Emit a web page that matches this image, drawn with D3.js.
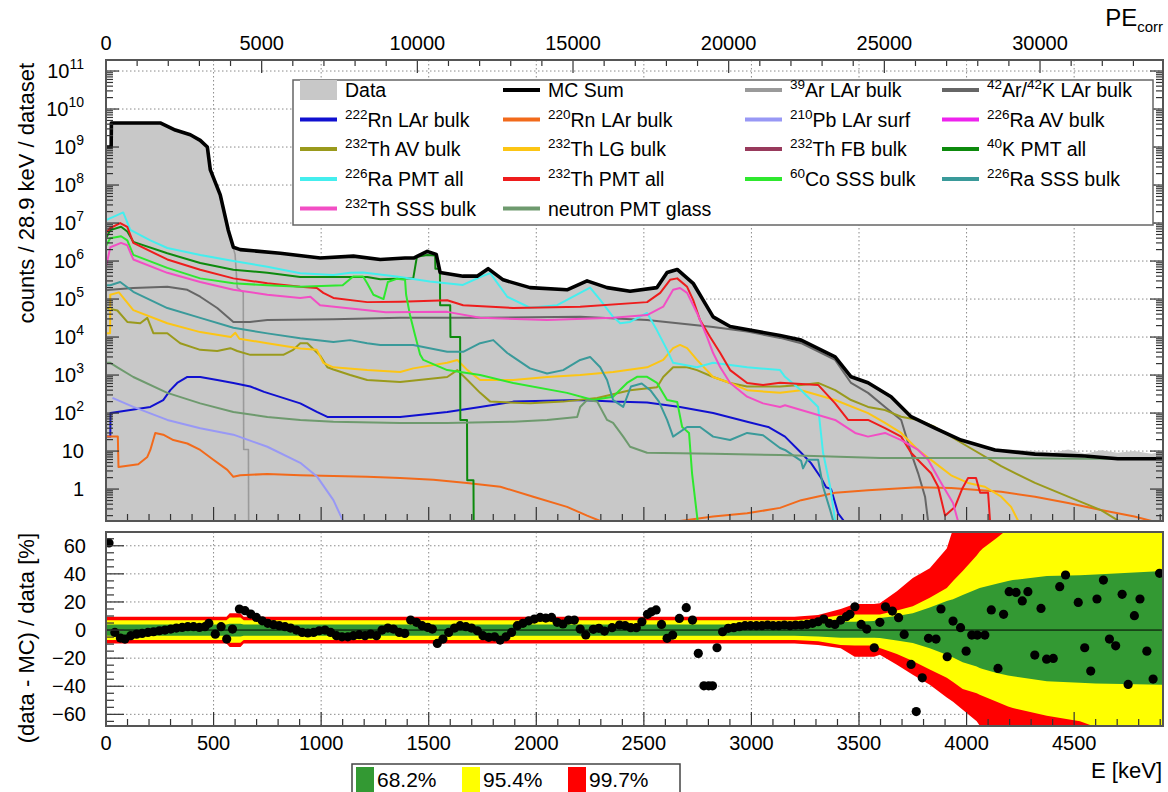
<!DOCTYPE html>
<html>
<head>
<meta charset="utf-8">
<script src="https://cdn.jsdelivr.net/npm/d3@7"></script>
<style>
  body { margin: 0; background: #fff; }
  svg text { font-family: "Liberation Sans", Arial, Helvetica, sans-serif; fill: #000; }
</style>
</head>
<body>
<svg id="chart" width="1168" height="792"></svg>
<script>
// ---- spectra: [E keV, counts / 28.9 keV / dataset] ----
const mcSum = [[0,1.0e9],[24,1.0e9],[25,4.3e9],[252,4.3e9],[322,2.8e9],[392,2.1e9],[438,1.5e9],[471,1.0e9],[485,2.5e8],[531,5.5e7],[568,6.6e6],[592,2.3e6],[624,2.0e6],[810,1.6e6],[996,1.2e6],[1150,1.35e6],[1275,1.1e6],[1390,1.2e6],[1430,1.2e6],[1493,1.8e6],[1535,1.5e6],[1553,5.0e5],[1660,4.0e5],[1725,4.0e5],[1776,6.3e5],[1846,3.2e5],[1971,2.0e5],[2143,1.75e5],[2236,3.0e5],[2329,2.0e5],[2436,1.6e5],[2561,2.0e5],[2608,5.0e5],[2655,6.0e5],[2729,2.6e5],[2775,9.5e4],[2822,3.4e4],[2901,1.9e4],[3133,1.1e4],[3231,8.3e3],[3389,3.0e3],[3463,9.0e2],[3542,6.3e2],[3649,2.7e2],[3742,80],[3853,40],[3974,19.5],[4132,10.7],[4318,8.3],[4550,7.4],[4703,6.3],[4913,6.3]];
const dataHist = [[0,1.0e9],[24,1.0e9],[25,4.3e9],[252,4.3e9],[322,2.8e9],[392,2.1e9],[438,1.5e9],[471,1.0e9],[485,2.5e8],[531,5.5e7],[568,6.6e6],[592,2.3e6],[624,2.2e6],[810,1.65e6],[996,1.2e6],[1150,1.35e6],[1275,1.1e6],[1390,1.25e6],[1430,1.2e6],[1493,1.8e6],[1535,1.5e6],[1553,5.0e5],[1660,4.0e5],[1725,4.0e5],[1776,6.3e5],[1846,3.2e5],[1971,2.1e5],[2143,1.8e5],[2236,3.0e5],[2329,2.0e5],[2436,1.6e5],[2561,2.2e5],[2608,5.0e5],[2655,6.0e5],[2729,2.7e5],[2775,9.0e4],[2822,3.2e4],[2901,1.9e4],[3133,1.15e4],[3231,8.6e3],[3389,3.1e3],[3463,1.0e3],[3542,6.3e2],[3649,3.0e2],[3742,70],[3853,40],[3974,20],[4132,11.5],[4318,10],[4400,9],[4472,11],[4550,8.5],[4625,10.5],[4703,9],[4780,10],[4860,8.5],[4913,10]];
const ar39 = [[0,1.0e9],[24,1.0e9],[25,4.2e9],[252,4.2e9],[322,2.8e9],[392,2.1e9],[438,1.5e9],[471,1.0e9],[485,2.5e8],[531,5.5e7],[568,6.5e6],[600,1.5e6],[610,2.0e5],[638,1.5e5],[640,11],[662,11],[663,0],[4913,0]];
const ar42 = [[0,1.7e5],[20,1.75e5],[127,1.95e5],[285,2.1e5],[378,1.75e5],[438,1.15e5],[517,5.8e4],[564,3.4e4],[592,2.5e4],[669,2.5e4],[750,2.8e4],[1057,2.95e4],[1367,3.2e4],[1739,3.2e4],[2204,3.4e4],[2515,2.8e4],[2822,1.85e4],[2980,1.4e4],[3133,9.5e3],[3231,6.9e3],[3389,2.5e3],[3463,6.2e2],[3542,3.4e2],[3621,1.45e2],[3696,66],[3742,9],[3775,2.6],[3807,0.63],[3821,0],[4913,0]];
const rn222 = [[0,24],[20,24],[21,100],[206,145],[266,220],[299,400],[331,620],[378,890],[438,890],[517,740],[592,620],[671,500],[735,360],[903,180],[980,107],[1029,79],[1135,79],[1367,79],[1586,107],[1739,145],[1893,200],[2204,220],[2357,200],[2515,190],[2668,145],[2822,100],[2980,59],[3078,43],[3156,24],[3231,9],[3277,4.8],[3324,1.95],[3347,1.12],[3370,1.0],[3389,0.43],[3403,0.23],[3430,0],[4913,0]];
const rn220 = [[0,24],[55,24],[58,3.8],[150,4.5],[192,7],[206,10.7],[229,30],[266,27],[313,19.5],[378,15.8],[438,10.7],[499,5.9],[564,3.2],[592,2.1],[624,2.3],[750,2.5],[903,2.3],[1057,2.2],[1214,2.1],[1367,1.95],[1522,1.75],[1678,1.45],[1833,1.15],[1986,0.63],[2143,0.34],[2236,0.2],[2297,0],[2668,0],[2822,0.19],[2980,0.23],[3133,0.32],[3231,0.51],[3389,0.8],[3542,0.93],[3775,1.12],[3928,1.07],[4161,0.85],[4318,0.63],[4472,0.43],[4625,0.28],[4780,0.19],[4860,0],[4913,0]];
const pb210 = [[30,250],[127,145],[285,66],[438,40],[592,27],[750,13],[903,4.9],[982,2.1],[1057,0.51],[1102,0.1],[1110,0],[4913,0]];
const ra226AV = [[0,0],[4913,0]];
const th232AV = [[0,5.8e4],[53,5.0e4],[99,2.5e4],[159,2.3e4],[192,3.2e4],[220,1.26e4],[285,1.26e4],[345,6.9e3],[438,4.6e3],[517,4.3e3],[578,5.1e3],[610,4.3e3],[671,3.4e3],[824,3.4e3],[870,4.6e3],[903,6.9e3],[936,6.9e3],[996,3.2e3],[1029,1.6e3],[1057,1.4e3],[1135,1.0e3],[1214,740],[1367,660],[1586,890],[1633,1.35e3],[1680,740],[1739,340],[1786,200],[1971,180],[2125,200],[2283,250],[2436,400],[2561,480],[2590,890],[2636,1.6e3],[2701,1.6e3],[2747,1.35e3],[2822,890],[2901,620],[2980,500],[3133,500],[3231,550],[3310,620],[3389,400],[3463,220],[3542,145],[3621,120],[3696,80],[3775,66],[3853,43],[3928,24],[4007,13],[4161,4.0],[4318,1.45],[4472,0.63],[4625,0.28],[4703,0.15],[4720,0],[4913,0]];
const th232LG = [[0,1.26e4],[19,1.26e4],[20,1.3e5],[60,1.5e5],[127,5.1e4],[285,2.3e4],[438,1.35e4],[580,1.0e4],[601,1.3e4],[620,9.0e3],[750,6.9e3],[903,5.0e3],[980,4.6e3],[1010,2.1e3],[1057,1.6e3],[1214,1.35e3],[1367,1.2e3],[1428,1.5e3],[1586,2.1e3],[1633,2.5e3],[1680,1.35e3],[1739,740],[1893,740],[2050,890],[2204,1.0e3],[2357,1.2e3],[2515,1.6e3],[2590,2.5e3],[2636,5.1e3],[2668,6.2e3],[2701,5.1e3],[2747,2.5e3],[2822,890],[2901,620],[2980,400],[3133,340],[3231,400],[3389,220],[3542,100],[3621,55],[3696,30],[3775,10.7],[3853,4.9],[3928,2.3],[4007,1.45],[4085,1.15],[4161,0.63],[4207,0.34],[4240,0],[4913,0]];
const th232FB = [[0,0],[4913,0]];
const k40PMT = [[0,4.0e6],[20,6.5e6],[70,8.0e6],[99,6.0e6],[127,3.2e6],[285,1.6e6],[438,8.9e5],[592,5.9e5],[750,4.9e5],[903,3.8e5],[1057,3.8e5],[1214,3.8e5],[1275,3.3e5],[1428,3.5e5],[1445,1.3e6],[1493,1.45e6],[1530,1.4e6],[1531,6.3e5],[1552,6.3e5],[1553,6.9e4],[1600,6.9e4],[1601,1.0e4],[1646,1.0e4],[1647,66],[1678,66],[1679,1.7],[1708,1.7],[1709,0],[4913,0]];
const ra226PMT = [[0,1.2e7],[34,1.45e7],[80,1.9e7],[113,6.6e6],[206,3.5e6],[285,2.2e6],[438,1.45e6],[592,1.0e6],[750,7.1e5],[903,4.8e5],[1057,4.3e5],[1135,4.9e5],[1195,5.0e5],[1351,3.9e5],[1505,2.9e5],[1659,2.35e5],[1739,3.8e5],[1786,4.8e5],[1865,1.15e5],[1971,5.9e4],[2097,6.9e4],[2204,1.45e5],[2250,2.0e5],[2297,9.5e4],[2357,3.4e4],[2390,2.3e4],[2436,2.5e4],[2515,4.3e4],[2561,1.5e4],[2608,4.6e3],[2636,2.1e3],[2747,1.6e3],[2822,2.1e3],[2980,1.6e3],[3133,1.35e3],[3156,900],[3231,400],[3310,145],[3333,9],[3366,1.15],[3389,0],[4913,0]];
const th232PMT = [[0,5.5e6],[20,7.4e6],[66,1.0e7],[99,7.9e6],[127,3.0e6],[285,1.1e6],[438,5.9e5],[592,3.5e5],[750,2.6e5],[903,2.1e5],[980,1.95e5],[1010,1.45e5],[1057,1.07e5],[1214,8.3e4],[1367,8.5e4],[1586,9.3e4],[1660,6.9e4],[1893,5.8e4],[2204,6.3e4],[2515,8.3e4],[2576,1.45e5],[2622,3.2e5],[2655,3.5e5],[2701,2.1e5],[2729,9.5e4],[2761,2.8e4],[2808,1.0e4],[2855,3.8e3],[2901,1.35e3],[2980,620],[3054,550],[3133,630],[3310,550],[3389,180],[3449,66],[3542,66],[3621,40],[3696,24],[3742,9],[3789,4.8],[3835,2.6],[3868,1.15],[3900,0.2],[3946,0.34],[3979,1.0],[4007,1.95],[4044,1.95],[4063,0.8],[4100,0.8],[4109,0],[4913,0]];
const co60SSS = [[0,2.5e6],[20,4.0e6],[70,4.5e6],[99,3.5e6],[127,1.45e6],[285,6.6e5],[438,3.5e5],[592,2.6e5],[750,2.3e5],[903,2.1e5],[1100,2.3e5],[1149,3.9e5],[1195,3.9e5],[1214,2.6e5],[1243,1.3e5],[1290,1.0e5],[1310,2.8e5],[1351,3.4e5],[1390,3.2e5],[1395,1.3e5],[1413,3.8e4],[1436,1.15e4],[1460,3.5e3],[1475,2.5e3],[1586,1.35e3],[1739,1.0e3],[1893,620],[2143,340],[2264,220],[2357,270],[2422,620],[2468,900],[2515,900],[2561,620],[2608,220],[2655,195],[2678,43],[2710,30],[2724,2.6],[2750,0],[4913,0]];
const ra226SSS = [[0,2.3e5],[20,2.3e5],[66,2.8e5],[127,1.55e5],[285,5.8e4],[438,3.2e4],[592,1.75e4],[750,1.25e4],[903,9.3e3],[1057,7.4e3],[1135,8.3e3],[1214,6.9e3],[1275,6.2e3],[1428,6.2e3],[1586,4.1e3],[1660,4.1e3],[1739,6.9e3],[1800,8.3e3],[1865,3.8e3],[1971,1.5e3],[2050,1.1e3],[2125,1.35e3],[2204,2.5e3],[2250,3.0e3],[2297,1.6e3],[2329,740],[2357,220],[2404,145],[2440,500],[2490,600],[2530,400],[2570,200],[2608,66],[2636,24],[2701,43],[2761,43],[2822,24],[2901,19.5],[2980,30],[3054,26],[3133,12],[3156,10.7],[3231,5.5],[3240,3.5],[3260,5.9],[3310,5.9],[3333,1.15],[3366,0.28],[3380,0],[4913,0]];
const th232SSS = [[0,7.0e5],[20,2.3e6],[70,3.0e6],[99,2.6e6],[127,1.1e6],[285,4.9e5],[438,2.8e5],[592,1.75e5],[750,1.3e5],[903,1.07e5],[950,1.15e5],[995,6.9e4],[1214,5.1e4],[1300,4.5e4],[1586,4.6e4],[1739,3.2e4],[2050,2.8e4],[2357,3.2e4],[2515,3.8e4],[2590,6.3e4],[2636,1.75e5],[2668,1.95e5],[2701,1.45e5],[2747,4.3e4],[2794,1.0e4],[2822,3.8e3],[2855,1.6e3],[2901,620],[2980,270],[3054,180],[3133,145],[3156,160],[3231,120],[3389,66],[3482,30],[3542,24],[3621,30],[3696,19.5],[3775,10.7],[3821,5.9],[3882,1.45],[3937,0.43],[3960,0],[4913,0]];
const neutronPMT = [[0,2.1e3],[20,2.1e3],[53,1.6e3],[127,890],[285,340],[438,180],[592,107],[750,79],[903,66],[1057,59],[1367,55],[1586,55],[1893,59],[2050,66],[2190,79],[2204,145],[2236,220],[2283,200],[2329,66],[2357,55],[2404,24],[2436,13],[2515,9],[2822,8.5],[3133,7.9],[3600,6.6],[4100,6.6],[4550,6.3],[4913,6.3]];

// ---- residual panel: (data - MC)/data [%] ----
const resE = [14,41,67,88,115,142,168,195,221,248,274,301,327,354,380,407,434,460,478,508,535,561,588,620,646,673,699,726,752,779,805,832,858,885,912,938,965,991,1018,1044,1071,1097,1124,1150,1177,1204,1230,1257,1283,1310,1336,1363,1389,1416,1443,1469,1496,1517,1540,1566,1593,1620,1646,1673,1699,1726,1752,1779,1806,1832,1859,1885,1912,1938,1965,1991,2018,2044,2071,2097,2124,2150,2177,2204,2230,2265,2291,2317,2352,2387,2413,2439,2465,2491,2517,2535,2557,2582,2608,2634,2665,2697,2726,2753,2779,2801,2819,2840,2866,2892,2918,2944,2970,2996,3023,3049,3075,3101,3127,3153,3179,3205,3232,3258,3284,3310,3336,3362,3388,3415,3441,3458,3481,3510,3536,3571,3597,3623,3655,3684,3710,3742,3766,3794,3823,3858,3881,3910,3937,3972,3998,4024,4050,4085,4115,4146,4172,4198,4230,4259,4285,4317,4346,4372,4403,4433,4460,4519,4549,4577,4606,4636,4664,4693,4723,4751,4780,4806,4838,4867,4897];
const resV = [62,-1.7,-5.7,-6.4,-4,-2.9,-2.4,-1.7,-1.2,-0.5,0,0.7,1.4,1.9,2.4,2.4,1.9,2.4,4.8,-2.9,2.4,-6.4,0.7,15,13.8,11.4,9,6.6,4.8,3.8,3.1,2.4,1.4,0,-1.7,-2.1,-1.7,-0.5,0,-1.7,-4,-4.8,-4.8,-4,-3.3,-4,-2.9,-4,0,1.4,0.7,-1.7,-2.4,7.1,5.5,3.1,1.9,0.7,-9.5,-6.4,-1.7,1.4,3.1,2.4,1.4,-0.5,-4,-5.2,-4.8,-7.1,-4.8,-1.7,3.1,4.8,6.6,7.8,9,8.5,9,5.5,4.3,7.1,7.1,0.7,-3.5,0.5,1.2,-0.7,1.7,3.6,3.1,1.7,1.7,5.9,11.2,13,14.3,4,-5.9,-3.6,8.3,15.9,7.1,-16.6,-39.7,-39.7,-39.7,-12.6,-1.2,1.2,1.7,2.4,3.1,3.1,3.1,3.1,3.6,3.1,3.1,3.6,3.1,3.6,3.6,4,4.8,5.9,7.8,4.8,4,7.1,9.5,11.2,16.6,4,0.7,-12.6,5.5,16.6,13.5,8.8,-3.1,-24.5,-58,-34,-5.9,-6.4,15,-19,6.4,1.7,-15,-3.6,-3.6,-3.6,14.3,-27.3,11.2,27.3,26.8,20.7,27.3,-17.8,15.4,-20.7,-20.2,30.9,39.2,19.7,-12.6,-29.2,22.1,35.6,-6.4,-11.2,25.4,-38.7,10.2,22.1,-15,-34.9,40.4];

// uncertainty bands (upper / lower edge, %)
const bandE    = [0, 560, 575, 625, 640, 3200, 3310, 3415, 3480, 3570, 3597, 3676, 3750, 3829, 3908, 3937, 3982, 4047, 4061, 4075, 4140, 4193, 4215, 4373, 4527, 4600, 4913];
const greenHi  = [4, 4, 4.5, 4.5, 4, 4, 4.5, 6, 6, 6.5, 8.5, 10, 12, 16, 20.6, 22, 25, 29, 30, 30.5, 33, 35, 35.6, 38.4, 39, 39.5, 42];
const greenLo  = [-4, -4, -4.5, -4.5, -4, -4, -4.5, -5.5, -5.5, -5.5, -5.7, -7.5, -9.3, -13, -17.6, -19.5, -23, -26, -27, -27.8, -30.5, -32.3, -32.9, -36.4, -37.6, -38, -39];
const yellowHi = [7, 7, 9, 9, 7, 7, 8, 10.7, 11, 11, 11, 14, 17, 23, 30, 35, 42, 53, 56, 58, 65.5, 72, 80, 80, 80, 80, 80];
const yellowLo = [-7, -7, -9, -9, -7, -7, -8, -10.7, -11, -11, -12.8, -17, -22, -28, -34, -37, -42, -45, -46, -47, -51, -54.5, -55.5, -61, -65, -69, -80];
const redHi    = [9.5, 9.5, 12, 12, 9.5, 9.5, 10.7, 15, 18.5, 18.5, 19, 27.7, 37, 44, 58, 72, 80, 80, 80, 80, 80, 80, 80, 80, 80, 80, 80];
const redLo    = [-9.5, -9.5, -12, -12, -9.5, -9.5, -10.7, -13, -19, -19, -17.6, -24.7, -31.8, -39, -48, -51, -56.7, -65, -68, -72, -80, -80, -80, -80, -80, -80, -80];

// tick labels
const peTicks = [0, 5000, 10000, 15000, 20000, 25000, 30000];
const eTicks = [0, 500, 1000, 1500, 2000, 2500, 3000, 3500, 4000, 4500];
const decades = [0, 1, 2, 3, 4, 5, 6, 7, 8, 9, 10, 11];
const resTicks = [-60, -40, -20, 0, 20, 40, 60];
const bandNames = ["68.2%", "95.4%", "99.7%"];

// legend grid, row by row
const legendItems = [
  { label: "Data", color: "#c8c8c8", values: dataHist, kind: "fill" },
  { label: "MC Sum", color: "#000000", values: mcSum, kind: "sum" },
  { label: "^{39}Ar LAr bulk", color: "#9a9a9a", values: ar39, w: 1.6 },
  { label: "^{42}Ar/^{42}K LAr bulk", color: "#666666", values: ar42 },
  { label: "^{222}Rn LAr bulk", color: "#1010d0", values: rn222 },
  { label: "^{220}Rn LAr bulk", color: "#f26a1b", values: rn220 },
  { label: "^{210}Pb LAr surf", color: "#9898f5", values: pb210 },
  { label: "^{226}Ra AV bulk", color: "#ee22ee", values: ra226AV },
  { label: "^{232}Th AV bulk", color: "#9a9a1c", values: th232AV },
  { label: "^{232}Th LG bulk", color: "#fcc514", values: th232LG },
  { label: "^{232}Th FB bulk", color: "#983a5c", values: th232FB },
  { label: "^{40}K PMT all", color: "#0d8a0d", values: k40PMT },
  { label: "^{226}Ra PMT all", color: "#44eeee", values: ra226PMT },
  { label: "^{232}Th PMT all", color: "#ee1c1c", values: th232PMT },
  { label: "^{60}Co SSS bulk", color: "#2ee82e", values: co60SSS },
  { label: "^{226}Ra SSS bulk", color: "#3a9a9a", values: ra226SSS },
  { label: "^{232}Th SSS bulk", color: "#f24ec4", values: th232SSS },
  { label: "neutron PMT glass", color: "#6e9a6e", values: neutronPMT }
];

// ---- layout ----
const L = 106, R = 1163;
const topY0 = 60, topY1 = 521;
const botY0 = 532, botY1 = 726;
const yMin = 0.1445;

const svg = d3.select('#chart');
const x = d3.scaleLinear().domain([0, 4913]).range([L, R]);
const xPE = d3.scaleLinear().domain([0, 33950]).range([L, R]);
const yTop = d3.scaleLog().domain([yMin, 1.95e11]).range([topY1, topY0]);
const yBot = d3.scaleLinear().domain([-68.3, 69.8]).range([botY1, botY0]);

const defs = svg.append('defs');
defs.append('clipPath').attr('id', 'clipTop').append('rect')
  .attr('x', L).attr('y', topY0).attr('width', R - L).attr('height', topY1 - topY0);
defs.append('clipPath').attr('id', 'clipBot').append('rect')
  .attr('x', L).attr('y', botY0).attr('width', R - L).attr('height', botY1 - botY0);

// text with ^{...} superscripts
function richText(t, str, size, supSize, rise) {
  let raised = false;
  str.split(/(\^\{[^}]*\})/).filter(s => s.length).forEach(p => {
    if (p.startsWith('^{')) {
      t.append('tspan').attr('font-size', supSize).attr('dy', raised ? 0 : -rise).text(p.slice(2, -1));
      raised = true;
    } else {
      t.append('tspan').attr('font-size', size).attr('dy', raised ? rise : 0).text(p);
      raised = false;
    }
  });
}

const gridStyle = g => g.attr('stroke', '#8a8a8a').attr('stroke-width', 1).attr('stroke-dasharray', '1.5,2.5');

// ================= top panel =================
const gTop = svg.append('g');
const gridTop = gTop.append('g').call(gridStyle);
decades.slice(1).forEach(e => {
  gridTop.append('line').attr('x1', L).attr('x2', R)
    .attr('y1', yTop(Math.pow(10, e))).attr('y2', yTop(Math.pow(10, e)));
});
eTicks.slice(1).forEach(v => {
  gridTop.append('line').attr('x1', x(v)).attr('x2', x(v)).attr('y1', topY0).attr('y2', topY1);
});

const yClamp = v => yTop(Math.max(v, yMin));
const plot = gTop.append('g').attr('clip-path', 'url(#clipTop)');

plot.append('path')
  .datum(dataHist)
  .attr('fill', '#c8c8c8')
  .attr('d', d3.area().x(d => x(d[0])).y0(topY1).y1(d => yClamp(d[1])));

legendItems.filter(d => !d.kind).forEach(s => {
  plot.append('path')
    .datum(s.values)
    .attr('fill', 'none')
    .attr('stroke', s.color)
    .attr('stroke-width', s.w || 2)
    .attr('stroke-linejoin', 'round')
    .attr('d', d3.line().x(d => x(d[0])).y(d => yClamp(d[1])));
});

plot.append('path')
  .datum(mcSum)
  .attr('fill', 'none')
  .attr('stroke', '#000')
  .attr('stroke-width', 3.6)
  .attr('stroke-linejoin', 'round')
  .attr('d', d3.line().x(d => x(d[0])).y(d => yClamp(d[1])));

// ticks
const tk = gTop.append('g').attr('stroke', '#333').attr('stroke-width', 1.2);
d3.range(0, 4913, 100).forEach(v => {
  const len = v % 500 === 0 ? 14 : 7;
  tk.append('line').attr('x1', x(v)).attr('x2', x(v)).attr('y1', topY1).attr('y2', topY1 - len);
});
d3.range(0, 33950, 1000).forEach(v => {
  const len = v % 5000 === 0 ? 13 : 6;
  tk.append('line').attr('x1', xPE(v)).attr('x2', xPE(v)).attr('y1', topY0).attr('y2', topY0 + len);
});
for (let e = -1; e <= 11; e++) {
  for (let m = 1; m <= 9; m++) {
    const v = m * Math.pow(10, e);
    if (v < yMin || v > 1.95e11) continue;
    const len = m === 1 ? 13 : 7;
    tk.append('line').attr('x1', L).attr('x2', L + len).attr('y1', yTop(v)).attr('y2', yTop(v));
    tk.append('line').attr('x1', R).attr('x2', R - len).attr('y1', yTop(v)).attr('y2', yTop(v));
  }
}

gTop.append('rect').attr('x', L).attr('y', topY0).attr('width', R - L).attr('height', topY1 - topY0)
  .attr('fill', 'none').attr('stroke', '#555').attr('stroke-width', 2);

// labels
peTicks.forEach(v => {
  gTop.append('text').attr('x', xPE(v)).attr('y', 50).attr('text-anchor', 'middle')
    .attr('font-size', 20).text(v);
});
decades.forEach(e => {
  const t = gTop.append('text').attr('x', 84).attr('y', yTop(Math.pow(10, e)) + 7)
    .attr('text-anchor', 'end');
  const s = e === 0 ? '1' : e === 1 ? '10' : `10^{${e}}`;
  richText(t, s, 20, 14, 9);
});
const peLab = gTop.append('text').attr('x', 1163).attr('y', 26).attr('text-anchor', 'end');
peLab.append('tspan').attr('font-size', 24).text('PE');
peLab.append('tspan').attr('font-size', 15).attr('dy', 6).text('corr');

gTop.append('text')
  .attr('transform', `translate(34, 63) rotate(-90)`)
  .attr('text-anchor', 'end').attr('font-size', 22)
  .text('counts / 28.9 keV / dataset');

// legend
const lg = gTop.append('g');
lg.append('rect').attr('x', 293).attr('y', 80).attr('width', 860).attr('height', 145)
  .attr('fill', '#fff').attr('stroke', '#666').attr('stroke-width', 1.5);
const colX = [300, 503, 745, 942];
const rowY = [90, 119.5, 149, 179, 208.5];
legendItems.forEach((s, i) => {
  const cx = colX[i % 4], cy = rowY[Math.floor(i / 4)];
  if (s.kind === 'fill') {
    lg.append('rect').attr('x', cx).attr('y', cy - 10).attr('width', 37).attr('height', 20).attr('fill', s.color);
  } else {
    lg.append('line').attr('x1', cx).attr('x2', cx + 37).attr('y1', cy).attr('y2', cy)
      .attr('stroke', s.color).attr('stroke-width', 4);
  }
  const t = lg.append('text').attr('x', cx + 45).attr('y', cy + 7);
  richText(t, s.label, 19.5, 13.5, 8);
});

// ================= bottom panel =================
const gBot = svg.append('g');
const gridBot = gBot.append('g').call(gridStyle);
resTicks.forEach(v => {
  gridBot.append('line').attr('x1', L).attr('x2', R).attr('y1', yBot(v)).attr('y2', yBot(v));
});
eTicks.slice(1).forEach(v => {
  gridBot.append('line').attr('x1', x(v)).attr('x2', x(v)).attr('y1', botY0).attr('y2', botY1);
});

const bp = gBot.append('g').attr('clip-path', 'url(#clipBot)');
const band = (hi, lo) => d3.area()
  .x((d, i) => x(bandE[i]))
  .y0((d, i) => yBot(lo[i]))
  .y1((d, i) => yBot(hi[i]));
bp.append('path').datum(bandE).attr('fill', '#ff0000').attr('d', band(redHi, redLo));
bp.append('path').datum(bandE).attr('fill', '#ffff00').attr('d', band(yellowHi, yellowLo));
bp.append('path').datum(bandE).attr('fill', '#339933').attr('d', band(greenHi, greenLo));
bp.append('line').attr('x1', L).attr('x2', R).attr('y1', yBot(0)).attr('y2', yBot(0))
  .attr('stroke', '#000').attr('stroke-width', 1);

bp.selectAll('circle.res')
  .data(resE)
  .enter().append('circle')
  .attr('class', 'res')
  .attr('cx', d => x(d))
  .attr('cy', (d, i) => yBot(resV[i]))
  .attr('r', 4.6)
  .attr('fill', '#000');

const tk2 = gBot.append('g').attr('stroke', '#333').attr('stroke-width', 1.2);
d3.range(0, 4913, 100).forEach(v => {
  const len = v % 500 === 0 ? 14 : 7;
  tk2.append('line').attr('x1', x(v)).attr('x2', x(v)).attr('y1', botY1).attr('y2', botY1 - len);
});
d3.range(-65, 70, 5).forEach(v => {
  const len = v % 20 === 0 ? 18 : 8;
  tk2.append('line').attr('x1', L).attr('x2', L + len).attr('y1', yBot(v)).attr('y2', yBot(v));
});

gBot.append('rect').attr('x', L).attr('y', botY0).attr('width', R - L).attr('height', botY1 - botY0)
  .attr('fill', 'none').attr('stroke', '#555').attr('stroke-width', 2);

eTicks.forEach(v => {
  gBot.append('text').attr('x', x(v)).attr('y', 750).attr('text-anchor', 'middle')
    .attr('font-size', 20).text(v);
});
resTicks.forEach(v => {
  gBot.append('text').attr('x', 86).attr('y', yBot(v) + 7).attr('text-anchor', 'end')
    .attr('font-size', 20).text(v < 0 ? '\u2212' + Math.abs(v) : v);
});
gBot.append('text')
  .attr('transform', `translate(34, 533) rotate(-90)`)
  .attr('text-anchor', 'end').attr('font-size', 22)
  .text('(data - MC) / data [%]');
gBot.append('text').attr('x', 1162).attr('y', 778).attr('text-anchor', 'end')
  .attr('font-size', 22).text('E [keV]');

// band legend
const bl = gBot.append('g');
bl.append('rect').attr('x', 352).attr('y', 764).attr('width', 328).attr('height', 40)
  .attr('fill', '#fff').attr('stroke', '#444').attr('stroke-width', 1.5);
const bandCols = ['#339933', '#ffff00', '#ff0000'];
bandNames.forEach((n, i) => {
  const bx = 356 + i * 106;
  bl.append('rect').attr('x', bx).attr('y', 767).attr('width', 18).attr('height', 30).attr('fill', bandCols[i]);
  bl.append('text').attr('x', bx + 21).attr('y', 787).attr('font-size', 21).text(n);
});
</script>
</body>
</html>
